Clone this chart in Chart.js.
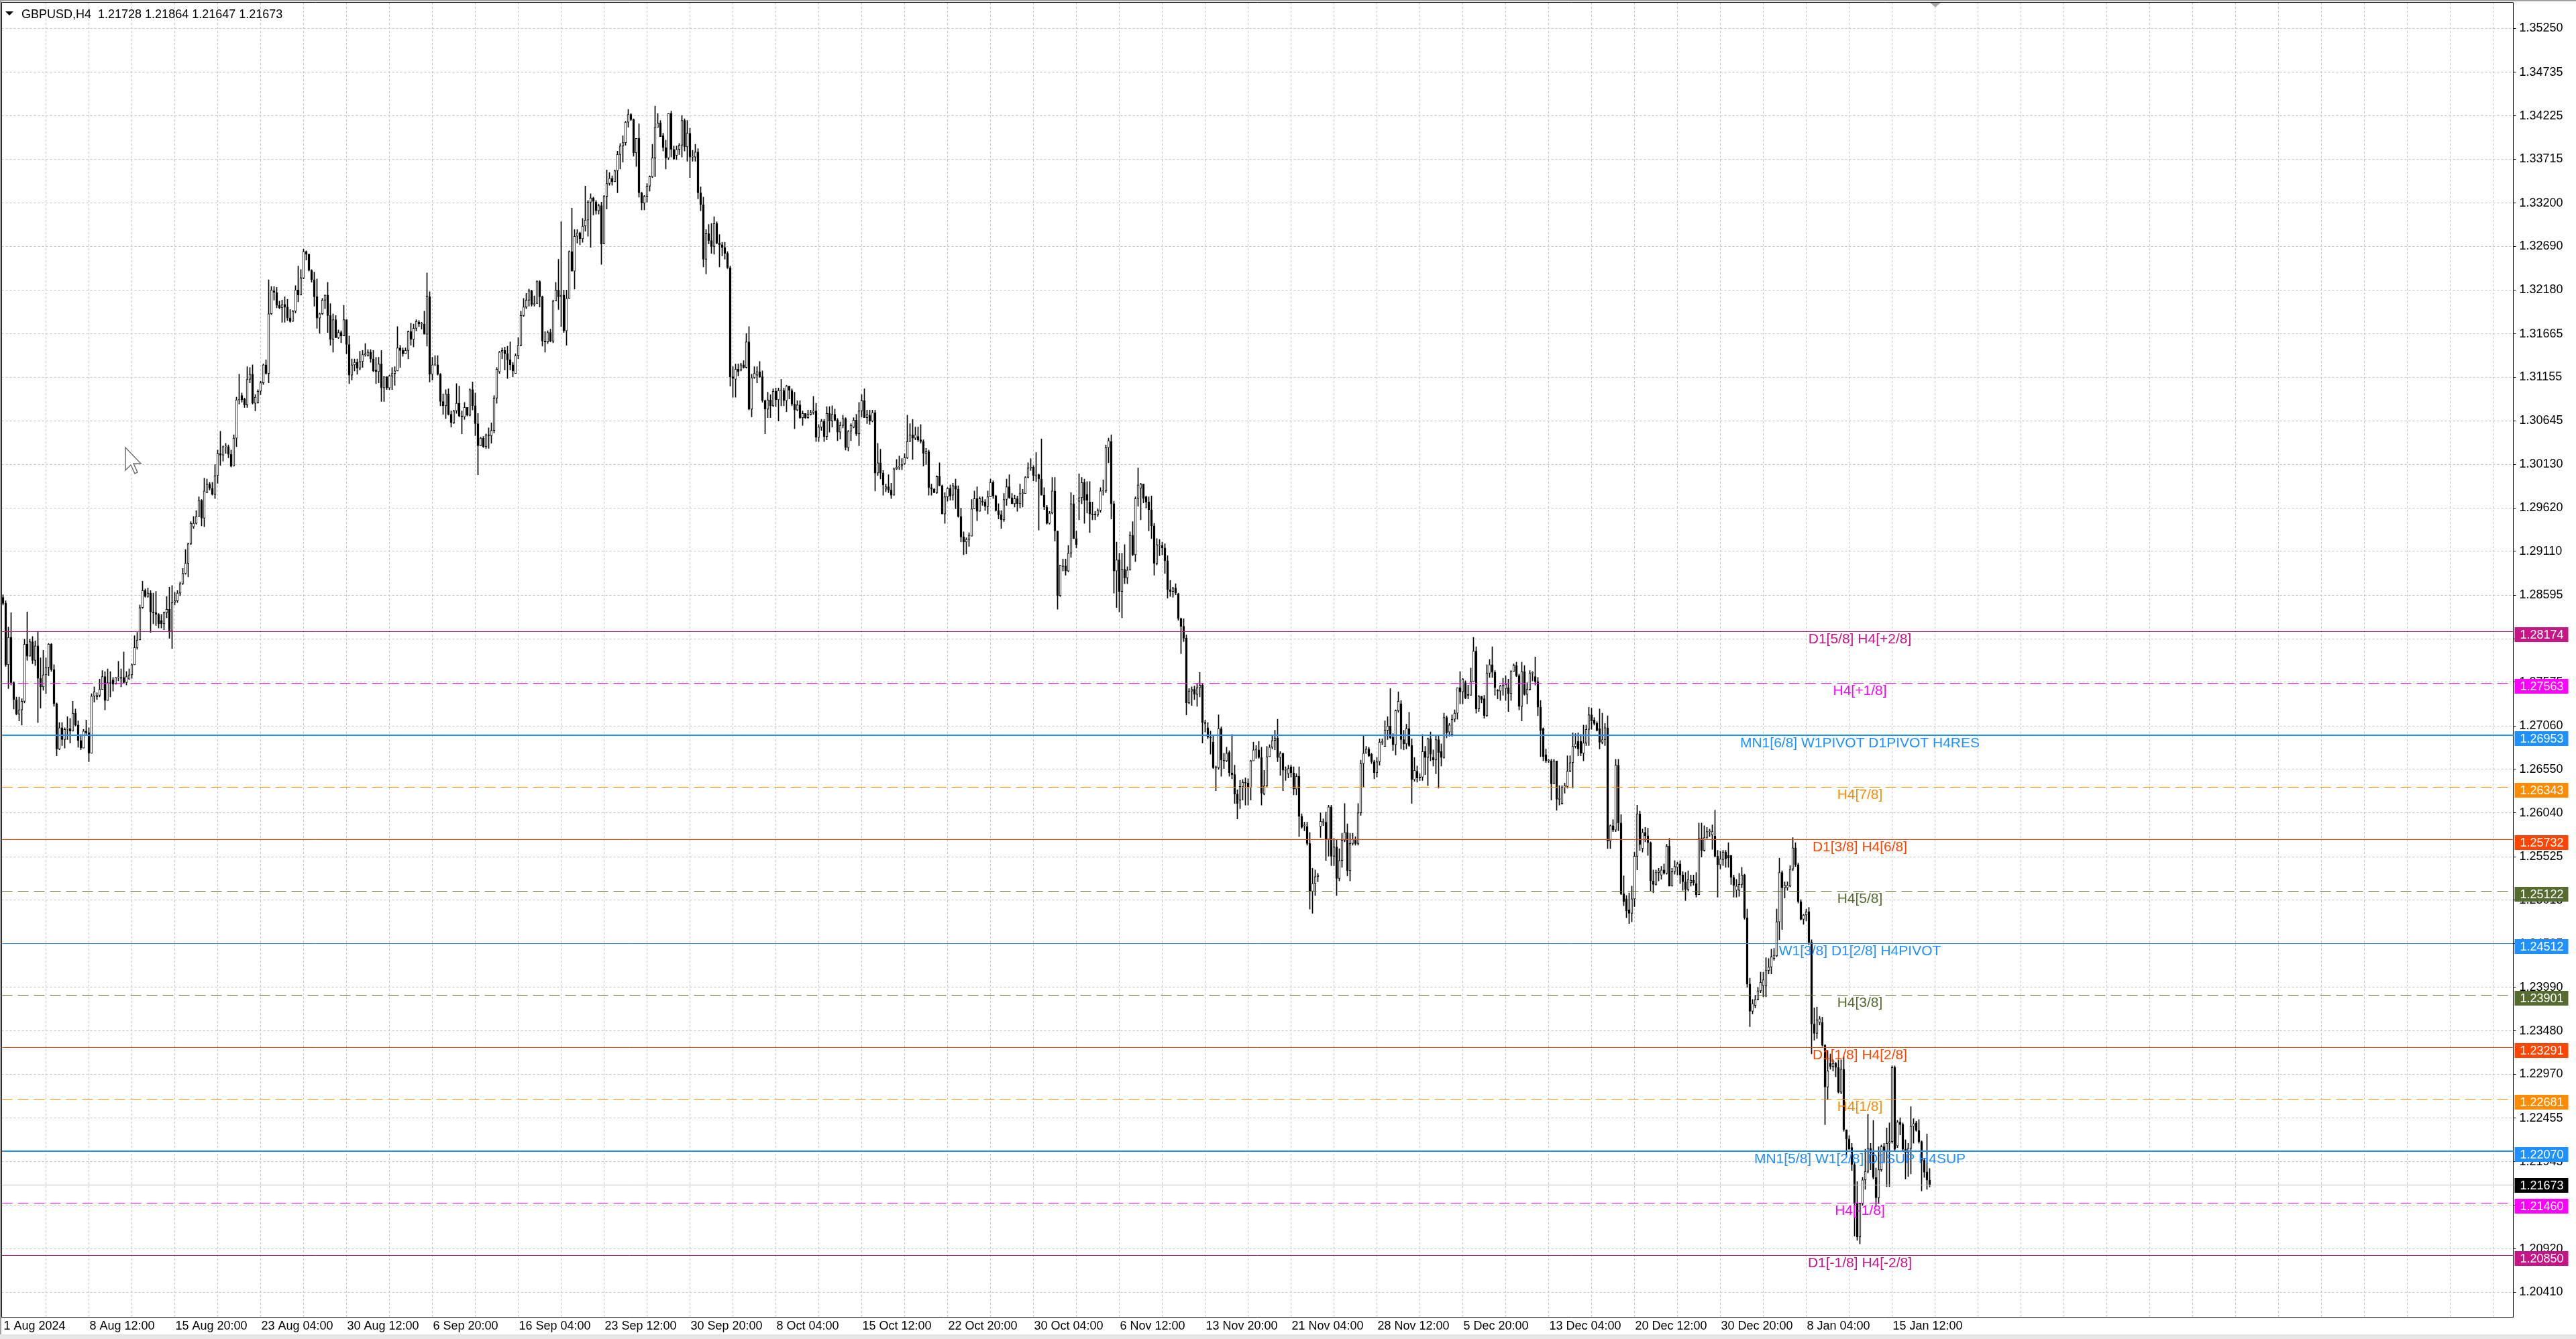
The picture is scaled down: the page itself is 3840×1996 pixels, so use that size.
<!DOCTYPE html>
<html>
<head>
<meta charset="utf-8">
<title>GBPUSD,H4</title>
<script src="https://cdn.jsdelivr.net/npm/chart.js@4.4.1/dist/chart.umd.min.js"></script>
<style>
  html, body { margin: 0; padding: 0; background: #fff; overflow: hidden; }
  canvas { display: block; }
</style>
</head>
<body>
<canvas id="chart" width="3840" height="1996"></canvas>
<script>
// GBPUSD H4 candles, values in pips above BASE
const BASE = 1.2;
const symbol = 'GBPUSD,H4';

const opens = [
  857,850,778,810,757,737,720,725,735,802,
  788,805,783,800,762,752,766,775,802,772,
  732,679,704,690,702,703,700,721,707,689,
  680,700,698,674,741,740,742,749,764,736,
  757,760,755,763,763,763,757,761,766,778,
  798,807,845,865,858,862,840,839,837,830,
  826,839,843,817,851,853,862,873,885,897,
  920,940,944,952,971,950,980,990,985,978,
  1000,1026,1024,1034,1034,1025,1011,1044,1089,1094,
  1090,1083,1113,1119,1085,1086,1099,1109,1130,1120,
  1190,1217,1215,1200,1197,1201,1198,1185,1181,1193,
  1218,1212,1232,1263,1260,1241,1230,1210,1185,1190,
  1206,1212,1188,1160,1183,1162,1168,1164,1183,1154,
  1118,1130,1133,1126,1134,1142,1141,1145,1137,1124,
  1122,1131,1103,1116,1103,1117,1120,1123,1150,1147,
  1143,1147,1169,1160,1173,1180,1178,1178,1166,1210,
  1119,1130,1130,1119,1087,1082,1096,1072,1062,1076,
  1085,1070,1069,1080,1071,1101,1082,1061,1035,1044,
  1034,1048,1047,1053,1091,1122,1145,1147,1143,1136,
  1130,1120,1141,1153,1188,1198,1206,1217,1201,1202,
  1228,1210,1158,1157,1168,1158,1205,1218,1210,1212,
  1170,1208,1263,1240,1281,1285,1278,1293,1300,1321,
  1326,1321,1311,1317,1272,1328,1343,1349,1345,1358,
  1377,1387,1391,1415,1424,1418,1379,1396,1332,1320,
  1328,1340,1351,1373,1409,1414,1399,1385,1373,1425,
  1383,1376,1383,1388,1417,1386,1402,1374,1374,1380,
  1332,1318,1254,1284,1276,1269,1296,1273,1271,1268,
  1261,1244,1116,1113,1125,1124,1130,1127,1157,1078,
  1115,1118,1122,1116,1088,1078,1089,1082,1099,1089,
  1100,1100,1088,1105,1100,1084,1077,1083,1068,1073,
  1068,1072,1074,1076,1045,1057,1064,1046,1073,1064,
  1072,1065,1051,1059,1067,1033,1052,1057,1065,1049,
  1076,1088,1068,1071,1064,1074,1003,1015,1003,984,
  987,983,977,1008,1010,1011,1014,1021,1040,1048,
  1044,1046,1042,1040,1026,1028,986,984,980,999,
  988,955,975,985,977,988,984,952,928,922,
  925,929,961,973,958,970,969,964,975,992,
  976,959,954,948,972,987,974,967,973,967,
  979,979,998,1009,1010,1000,1001,996,977,963,
  944,956,982,935,859,893,894,888,909,967,
  926,970,974,992,978,969,955,955,954,959,
  982,982,1033,1040,967,888,901,864,890,880,
  889,930,907,973,985,990,975,969,960,941,
  897,918,918,915,900,866,864,868,861,832,
  823,809,733,747,749,743,751,754,710,704,
  693,687,657,657,703,666,665,675,651,649,
  626,619,635,640,639,634,665,678,678,669,
  626,636,670,681,689,692,669,674,654,650,
  658,651,632,647,600,589,588,568,512,521,
  529,588,593,593,573,611,553,564,527,548,
  572,581,536,568,573,568,604,662,674,679,
  673,664,651,664,687,682,701,706,693,684,
  724,732,690,685,703,683,643,653,645,646,
  676,669,691,669,666,690,676,669,716,699,
  696,714,721,751,746,757,743,742,758,794,
  726,741,738,718,768,778,769,748,747,753,
  750,751,744,770,777,765,729,770,743,749,
  768,764,758,728,703,672,665,665,638,665,
  620,615,634,635,653,663,682,688,688,674,
  686,702,719,713,709,703,687,690,704,571,
  589,584,660,592,509,503,490,486,503,553,
  603,562,581,577,569,524,520,534,531,537,
  533,565,518,535,540,544,531,523,514,522,
  525,521,508,574,560,575,582,578,577,553,
  543,549,558,554,554,528,513,513,520,531,
  481,403,371,378,385,395,401,401,419,423,
  433,436,476,534,516,516,518,538,563,543,
  500,479,484,488,452,356,345,358,358,331,
  282,310,306,310,305,276,303,232,221,211,
  191,145,106,145,173,183,210,205,176,152,
  185,212,207,216,218,305,213,241,238,209,
  205,210,236,240,231,218,196,182,172.8
];

const highs = [
  860,853,822,839,758,740,740,738,808,840,
  808,811,806,817,786,795,786,803,803,778,
  733,710,710,704,717,715,735,726,712,696,
  702,713,704,744,752,745,761,771,770,773,
  770,763,763,782,773,793,770,773,779,812,
  816,848,876,867,868,865,862,864,838,837,
  840,858,869,871,863,865,875,891,913,921,
  946,952,959,975,972,997,996,992,992,1013,
  1030,1052,1035,1038,1036,1030,1048,1092,1119,1097,
  1091,1128,1127,1130,1095,1101,1111,1131,1136,1230,
  1222,1222,1221,1205,1206,1210,1207,1195,1194,1223,
  1246,1242,1266,1264,1260,1242,1239,1231,1191,1208,
  1212,1227,1202,1190,1188,1171,1170,1200,1183,1164,
  1137,1137,1137,1146,1147,1155,1148,1148,1147,1139,
  1139,1147,1116,1116,1118,1127,1128,1175,1153,1150,
  1150,1170,1179,1178,1183,1182,1180,1193,1238,1216,
  1139,1141,1141,1120,1096,1101,1102,1076,1077,1108,
  1105,1076,1086,1080,1102,1110,1097,1073,1045,1046,
  1049,1056,1062,1094,1127,1146,1150,1151,1152,1157,
  1133,1143,1162,1193,1208,1214,1219,1218,1211,1229,
  1229,1211,1169,1170,1172,1206,1227,1254,1298,1218,
  1218,1264,1314,1289,1289,1286,1302,1340,1323,1331,
  1327,1323,1319,1321,1329,1359,1356,1352,1359,1381,
  1390,1399,1416,1430,1425,1419,1396,1413,1333,1329,
  1343,1352,1389,1434,1425,1417,1402,1394,1425,1428,
  1387,1387,1390,1423,1419,1417,1408,1382,1389,1384,
  1339,1327,1289,1295,1296,1304,1298,1283,1274,1274,
  1263,1246,1128,1131,1131,1132,1135,1167,1175,1119,
  1128,1128,1134,1123,1089,1098,1095,1102,1103,1103,
  1113,1103,1106,1105,1102,1098,1088,1088,1076,1073,
  1077,1077,1093,1085,1060,1066,1066,1081,1081,1082,
  1078,1067,1063,1071,1068,1053,1061,1068,1072,1086,
  1095,1102,1077,1077,1077,1077,1038,1031,1006,990,
  1001,991,1009,1019,1023,1020,1026,1071,1061,1066,
  1057,1057,1060,1042,1032,1030,990,985,1000,1015,
  989,980,986,989,991,996,988,962,934,927,
  933,972,982,987,975,975,972,982,996,994,
  977,967,959,979,996,1001,979,977,976,990,
  984,999,1015,1020,1012,1027,1002,1043,986,965,
  958,998,998,935,895,902,902,918,980,977,
  935,1002,998,996,993,993,969,958,961,986,
  995,1036,1044,1048,970,922,909,909,919,893,
  934,946,975,1009,991,990,976,975,976,944,
  926,925,922,920,906,877,869,873,862,833,
  832,813,750,752,753,756,769,756,713,710,
  700,695,659,719,705,674,681,677,696,660,
  631,642,643,645,644,666,687,683,688,681,
  654,682,684,695,701,714,676,674,658,660,
  660,658,650,658,603,593,593,581,539,537,
  533,604,597,605,613,613,574,572,562,580,
  615,591,580,580,576,615,666,694,682,681,
  674,666,669,691,691,712,717,750,697,725,
  746,736,701,708,722,691,669,659,650,696,
  682,692,699,678,694,695,685,721,718,709,
  719,725,751,770,762,759,754,774,810,799,
  742,741,742,778,784,799,771,749,754,762,
  765,761,771,779,781,767,781,777,757,771,
  770,787,763,736,704,679,667,667,667,665,
  636,636,639,671,671,698,697,698,696,707,
  707,728,727,716,711,726,721,709,718,590,
  596,667,667,602,530,507,510,518,558,613,
  606,585,587,586,570,537,537,539,541,544,
  567,574,539,548,546,548,535,534,536,531,
  531,534,592,592,589,587,585,590,607,560,
  559,560,560,569,554,531,526,533,540,532,
  491,410,385,390,399,417,417,434,433,444,
  445,491,551,536,523,523,542,575,569,545,
  502,485,491,493,455,375,376,365,364,332,
  325,321,314,311,314,314,318,232,225,216,
  194,171,145,176,209,250,216,243,187,212,
  214,216,234,240,307,307,243,246,240,220,
  216,259,245,242,244,219,198,227,186.4
];

const lows = [
  848,776,750,754,726,719,712,707,733,783,
  788,779,777,710,727,748,744,765,770,729,
  671,678,683,680,690,686,700,706,681,678,
  680,695,664,674,734,737,740,749,725,736,
  740,747,755,759,752,756,754,761,762,778,
  796,807,844,857,857,816,826,824,821,821,
  819,833,809,797,848,851,859,872,884,881,
  919,938,943,952,941,940,980,983,977,973,
  991,1012,1017,1026,1021,1010,1011,1034,1084,1086,
  1080,1080,1109,1084,1076,1085,1095,1107,1119,1109,
  1189,1206,1197,1196,1180,1180,1182,1180,1181,1191,
  1204,1212,1231,1253,1240,1227,1199,1173,1167,1189,
  1196,1168,1153,1145,1162,1161,1156,1164,1143,1108,
  1112,1123,1119,1124,1127,1140,1140,1133,1122,1108,
  1109,1087,1087,1101,1101,1101,1106,1123,1127,1140,
  1143,1137,1153,1151,1170,1175,1172,1166,1152,1110,
  1112,1129,1118,1082,1072,1067,1071,1057,1061,1073,
  1069,1049,1066,1070,1070,1077,1047,1001,1035,1033,
  1032,1032,1038,1050,1085,1120,1137,1124,1114,1124,
  1116,1120,1137,1152,1187,1196,1199,1199,1199,1202,
  1198,1152,1145,1155,1157,1156,1205,1195,1175,1168,
  1153,1208,1240,1219,1273,1271,1274,1287,1281,1268,
  1306,1307,1307,1248,1272,1313,1341,1341,1345,1332,
  1360,1368,1388,1409,1417,1375,1363,1327,1312,1312,
  1321,1334,1350,1351,1409,1398,1381,1360,1371,1374,
  1371,1371,1377,1374,1381,1369,1350,1369,1369,1325,
  1311,1245,1237,1272,1261,1260,1272,1245,1258,1254,
  1243,1105,1092,1092,1117,1123,1126,1126,1077,1069,
  1114,1109,1115,1086,1049,1068,1068,1081,1081,1064,
  1082,1082,1075,1090,1082,1055,1076,1067,1059,1067,
  1067,1071,1072,1040,1040,1053,1040,1042,1051,1057,
  1064,1041,1043,1056,1030,1029,1041,1056,1047,1035,
  1069,1068,1061,1060,1063,982,1000,996,977,981,
  980,973,977,1007,1007,1007,1013,1020,1040,1019,
  1042,1040,1038,1011,1013,977,977,980,979,988,
  955,944,970,971,971,961,951,922,907,908,
  917,929,961,947,958,965,959,955,975,973,
  958,949,938,946,965,973,967,963,958,962,
  963,979,997,1006,994,993,936,977,960,943,
  943,955,923,843,858,888,883,887,904,926,
  915,948,967,944,956,933,948,948,952,957,
  977,980,1015,949,862,845,840,833,873,873,
  889,906,899,964,948,968,962,935,926,883,
  895,906,907,885,856,858,857,860,830,791,
  805,719,732,730,737,729,740,686,699,691,
  673,656,630,655,647,656,664,647,644,615,
  597,609,619,613,613,619,665,668,668,613,
  625,635,670,679,678,664,648,630,642,645,
  646,625,625,576,586,583,566,491,486,507,
  523,575,589,548,553,542,542,507,524,540,
  570,530,524,566,566,566,601,634,674,670,
  662,644,646,660,684,682,690,691,677,672,
  722,679,678,679,682,615,641,640,642,642,
  649,636,665,659,650,633,659,668,692,694,
  694,711,714,732,732,738,738,742,758,721,
  723,733,715,717,763,763,742,738,736,742,
  736,723,736,770,764,725,712,742,732,748,
  759,754,718,670,665,663,663,619,638,607,
  613,614,627,633,652,633,680,671,671,665,
  683,683,702,707,700,679,685,683,562,562,
  582,582,583,508,495,481,474,476,494,537,
  560,558,570,554,512,510,519,524,526,532,
  532,518,518,532,531,521,513,501,512,518,
  519,505,508,552,559,574,576,561,552,505,
  538,542,540,540,520,505,505,506,516,479,
  399,353,368,375,384,393,388,388,415,415,
  431,435,455,467,504,513,517,536,541,498,
  478,473,477,449,321,337,339,355,330,238,
  267,303,301,294,275,274,230,201,209,184,
  107,102,98,143,162,181,185,174,142,145,
  183,194,165,165,216,207,211,226,207,174,
  177,180,216,230,216,160,176,162,164.7
];

const closes = [
  850,778,810,757,737,720,725,735,802,788,
  805,783,800,762,752,766,775,802,772,732,
  679,704,690,702,703,700,721,707,689,680,
  700,698,674,741,746,742,749,764,736,757,
  756,755,763,763,762,757,764,766,778,798,
  807,845,865,858,862,840,839,837,826,826,
  839,843,817,851,853,862,873,885,897,920,
  944,944,952,971,950,982,990,985,978,1000,
  1026,1024,1034,1034,1025,1011,1044,1089,1089,1089,
  1083,1113,1119,1085,1092,1099,1109,1130,1120,1190,
  1218,1215,1200,1197,1201,1198,1185,1181,1193,1218,
  1212,1232,1263,1260,1241,1230,1210,1185,1190,1206,
  1212,1188,1160,1183,1162,1168,1164,1183,1154,1118,
  1130,1133,1126,1134,1142,1143,1145,1137,1123,1122,
  1131,1103,1116,1103,1117,1120,1123,1150,1147,1143,
  1147,1169,1160,1173,1181,1178,1178,1166,1210,1119,
  1130,1130,1119,1087,1082,1096,1072,1062,1076,1085,
  1070,1069,1080,1071,1101,1082,1061,1035,1044,1034,
  1048,1047,1053,1091,1125,1145,1147,1143,1136,1130,
  1123,1141,1153,1188,1198,1206,1217,1201,1202,1228,
  1210,1158,1157,1168,1158,1205,1218,1210,1212,1170,
  1208,1263,1240,1281,1285,1278,1293,1300,1321,1326,
  1322,1311,1317,1272,1328,1343,1349,1345,1358,1377,
  1387,1391,1415,1424,1418,1379,1396,1332,1320,1328,
  1340,1351,1373,1409,1414,1398,1385,1373,1425,1383,
  1372,1383,1388,1417,1386,1402,1374,1374,1380,1332,
  1318,1254,1284,1276,1269,1296,1273,1271,1268,1261,
  1244,1116,1114,1125,1122,1130,1127,1157,1078,1115,
  1120,1122,1116,1088,1078,1089,1082,1099,1089,1100,
  1100,1088,1105,1100,1084,1077,1083,1068,1073,1068,
  1072,1074,1076,1045,1057,1064,1046,1073,1064,1072,
  1065,1051,1059,1067,1033,1052,1059,1065,1049,1076,
  1088,1068,1072,1064,1074,1003,1015,1003,989,987,
  983,977,1008,1010,1011,1013,1021,1040,1048,1044,
  1048,1042,1040,1026,1028,986,984,980,999,988,
  955,975,985,976,988,984,952,928,922,925,
  930,961,973,958,973,969,964,975,992,976,
  959,954,948,972,987,974,967,973,967,979,
  979,998,1009,1010,1000,1000,996,977,963,944,
  956,982,935,859,895,894,888,909,967,926,
  919,974,992,971,971,955,954,954,959,982,
  982,1033,1041,967,888,901,864,890,880,889,
  930,907,973,989,990,973,969,960,941,897,
  919,918,915,900,866,864,868,862,832,823,
  809,733,747,749,743,751,754,710,709,693,
  692,657,657,703,666,665,674,651,649,626,
  615,635,640,639,634,665,678,678,669,627,
  636,670,681,689,692,669,674,654,654,656,
  651,632,647,600,587,589,568,512,521,529,
  531,594,593,573,611,553,564,527,548,572,
  581,536,568,573,568,604,662,674,679,671,
  664,651,664,687,687,701,706,692,684,724,
  735,690,685,703,683,643,654,645,646,676,
  669,691,673,666,690,675,669,716,698,707,
  714,721,751,746,761,739,742,758,794,726,
  741,737,718,768,778,769,751,747,753,754,
  755,744,770,777,765,729,770,743,749,768,
  769,758,728,701,670,665,665,638,665,620,
  621,634,636,653,663,682,685,679,674,686,
  702,719,712,709,701,687,690,704,571,589,
  584,660,592,509,500,489,486,503,553,603,
  567,581,577,569,524,520,534,536,537,533,
  565,518,535,541,544,531,523,514,526,525,
  522,508,574,560,575,582,582,582,553,543,
  550,558,550,551,528,519,518,520,531,481,
  403,371,380,385,395,405,408,419,423,435,
  437,476,534,516,519,519,538,563,543,500,
  479,484,488,452,356,345,361,362,331,282,
  301,306,310,305,276,303,232,221,209,191,
  145,106,145,173,183,210,205,176,152,185,
  212,207,216,218,305,209,241,238,209,205,
  210,236,239,231,218,196,182,173,167.3
];

// time labels, one every 32 bars
const xLabels = [
  '1 Aug 2024', '8 Aug 12:00', '15 Aug 20:00', '23 Aug 04:00', '30 Aug 12:00',
  '6 Sep 20:00', '16 Sep 04:00', '23 Sep 12:00', '30 Sep 20:00', '8 Oct 04:00',
  '15 Oct 12:00', '22 Oct 20:00', '30 Oct 04:00', '6 Nov 12:00', '13 Nov 20:00',
  '21 Nov 04:00', '28 Nov 12:00', '5 Dec 20:00', '13 Dec 04:00', '20 Dec 12:00',
  '30 Dec 20:00', '8 Jan 04:00', '15 Jan 12:00'
];

// price scale ticks
const yTicks = [
  1.35250, 1.34735, 1.34225, 1.33715, 1.33200, 1.32690, 1.32180, 1.31665, 1.31155, 1.30645,
  1.30130, 1.29620, 1.29110, 1.28595, 1.28085, 1.27575, 1.27060, 1.26550, 1.26040, 1.25525,
  1.25015, 1.24505, 1.23990, 1.23480, 1.22970, 1.22455, 1.21945, 1.21435, 1.20920, 1.20410
];

// Murrey / pivot levels and their captions
const levelPrices = [1.28174, 1.27563, 1.26953, 1.26343, 1.25732, 1.25122, 1.24512,
                     1.23901, 1.23291, 1.22681, 1.22070, 1.21460, 1.20850];
const levelTexts = [
  'D1[5/8] H4[+2/8]', 'H4[+1/8]', 'MN1[6/8] W1PIVOT D1PIVOT H4RES', 'H4[7/8]',
  'D1[3/8] H4[6/8]', 'H4[5/8]', 'W1[3/8] D1[2/8] H4PIVOT', 'H4[3/8]',
  'D1[1/8] H4[2/8]', 'H4[1/8]', 'MN1[5/8] W1[2/8] D1SUP H4SUP', 'H4[-1/8]', 'D1[-1/8] H4[-2/8]'
];

const levelStyles = [
  { color: '#C71585', width: 1, dash: false },
  { color: '#FF00FF', width: 1, dash: true },
  { color: '#1E90FF', width: 2, dash: false },
  { color: '#FF8C00', width: 1, dash: true },
  { color: '#FF4500', width: 1, dash: false },
  { color: '#556B2F', width: 1, dash: true },
  { color: '#1E90FF', width: 1, dash: false },
  { color: '#556B2F', width: 1, dash: true },
  { color: '#FF4500', width: 1, dash: false },
  { color: '#FF8C00', width: 1, dash: true },
  { color: '#1E90FF', width: 2, dash: false },
  { color: '#FF00FF', width: 1, dash: true },
  { color: '#C71585', width: 1, dash: false }
];

const SLOTS = 936;        // bars plus the empty shift area on the right
const CAPTION_BAR = 692;  // where the level captions are centred
const Y_MIN = 1.20122, Y_MAX = 1.35553;
const FONT = '"Liberation Sans", Arial, sans-serif';

const toPrice = v => BASE + v / 10000;
const fmt = v => toPrice(v).toFixed(5);
const last = closes.length - 1;
const bid = toPrice(closes[last]);

const labels = Array.from({ length: SLOTS }, (_, i) => String(i));
const wicks = highs.map((h, i) => [toPrice(lows[i]), toPrice(h)]);
const bodies = opens.map((o, i) => [toPrice(o), toPrice(closes[i])]);
const bodyFill = opens.map((o, i) => closes[i] >= o ? '#ffffff' : '#000000');

const overlay = {
  id: 'overlay',
  afterDatasetsDraw(chart) {
    const { ctx, chartArea: a, scales: { x, y } } = chart;
    ctx.save();
    // bid line
    let by = Math.round(y.getPixelForValue(bid)) + 0.5;
    ctx.strokeStyle = '#C0C0C0';
    ctx.lineWidth = 1;
    ctx.beginPath(); ctx.moveTo(a.left, by); ctx.lineTo(a.right, by); ctx.stroke();

    levelPrices.forEach((p, i) => {
      const s = levelStyles[i];
      const py = Math.round(y.getPixelForValue(p)) + (s.width % 2 ? 0.5 : 0);
      ctx.strokeStyle = s.color;
      ctx.lineWidth = s.width;
      ctx.setLineDash(s.dash ? [16, 8] : []);
      ctx.beginPath(); ctx.moveTo(a.left, py); ctx.lineTo(a.right, py); ctx.stroke();
    });
    ctx.setLineDash([]);

    ctx.font = '21px ' + FONT;
    ctx.textAlign = 'center';
    ctx.textBaseline = 'alphabetic';
    const tx = x.getPixelForValue(CAPTION_BAR);
    levelPrices.forEach((p, i) => {
      ctx.fillStyle = levelStyles[i].color;
      ctx.fillText(levelTexts[i], tx, Math.round(y.getPixelForValue(p)) + 18);
    });
    ctx.restore();
  },
  afterDraw(chart) {
    const { ctx, chartArea: a, scales: { y } } = chart;
    ctx.save();
    // window frame
    ctx.fillStyle = '#A0A0A0';
    ctx.fillRect(0, 0, 3840, 2);
    ctx.fillRect(0, 0, 2, 1996);
    ctx.fillStyle = '#E6E6E6';
    ctx.fillRect(0, 1989, 3840, 7);
    ctx.strokeStyle = '#000';
    ctx.lineWidth = 1;
    ctx.beginPath();
    ctx.moveTo(2.5, a.bottom); ctx.lineTo(2.5, 3.5); ctx.lineTo(a.right, 3.5);
    ctx.stroke();

    // price boxes on the axis (level tags sit a little below their line)
    ctx.font = '18px ' + FONT;
    ctx.textAlign = 'left';
    ctx.textBaseline = 'middle';
    const boxes = levelPrices.map((p, i) => ({ p, c: levelStyles[i].color, dy: 5 }));
    boxes.push({ p: bid, c: '#000000', dy: 1 });
    boxes.forEach(b => {
      const yy = Math.round(y.getPixelForValue(b.p)) + b.dy;
      ctx.fillStyle = b.c;
      ctx.fillRect(y.left + 2, yy - 11, 80, 22);
      ctx.fillStyle = '#ffffff';
      ctx.fillText(b.p.toFixed(5), y.left + 10, yy + 1);
    });

    // header
    ctx.fillStyle = '#000';
    ctx.beginPath(); ctx.moveTo(8, 17); ctx.lineTo(20, 17); ctx.lineTo(14, 23); ctx.closePath(); ctx.fill();
    ctx.textBaseline = 'alphabetic';
    ctx.fillText(symbol + '  ' + fmt(opens[last]) + ' ' + fmt(highs[last]) + ' ' +
                 fmt(lows[last]) + ' ' + fmt(closes[last]), 32, 27);

    // chart shift marker
    ctx.fillStyle = '#A8A8A8';
    ctx.beginPath(); ctx.moveTo(2877, 4); ctx.lineTo(2893, 4); ctx.lineTo(2885, 11); ctx.closePath(); ctx.fill();

    // mouse pointer
    ctx.translate(187, 667);
    ctx.beginPath();
    ctx.moveTo(0, 0); ctx.lineTo(0, 34); ctx.lineTo(8, 26); ctx.lineTo(14, 39);
    ctx.lineTo(18, 37); ctx.lineTo(12, 24); ctx.lineTo(23, 24); ctx.closePath();
    ctx.fillStyle = '#fff'; ctx.fill();
    ctx.strokeStyle = '#707070'; ctx.lineWidth = 1.5; ctx.stroke();
    ctx.restore();
  }
};

new Chart(document.getElementById('chart'), {
  type: 'bar',
  data: {
    labels,
    datasets: [
      { data: wicks, backgroundColor: '#000', borderWidth: 0, barThickness: 1, grouped: false, order: 2 },
      { data: bodies, backgroundColor: bodyFill, borderColor: '#000', borderWidth: 1, borderSkipped: false,
        barThickness: 3, minBarLength: 1, grouped: false, order: 1 }
    ]
  },
  options: {
    responsive: false,
    devicePixelRatio: 1,
    animation: false,
    events: [],
    layout: { padding: { left: 2.5, top: 4, right: 0, bottom: 0 } },
    plugins: { legend: { display: false }, tooltip: { enabled: false } },
    scales: {
      x: {
        type: 'category',
        offset: true,
        grid: {
          offset: false,
          drawTicks: false,
          color: c => (c.index % 16 === 0 && c.index > 0) ? '#C4C4C4' : 'rgba(0,0,0,0)'
        },
        border: { display: true, color: '#000', width: 1, dash: [3, 3] },
        ticks: {
          autoSkip: false, maxRotation: 0, minRotation: 0, align: 'start',
          padding: 3, labelOffset: 1, color: '#000', font: { family: FONT, size: 18 },
          callback: (v, i) => (i % 32 === 0 && i / 32 < xLabels.length) ? xLabels[i / 32] : ''
        },
        afterFit: s => { s.height = 33; s.paddingLeft = 0; s.paddingRight = 0; }
      },
      y: {
        type: 'linear',
        position: 'right',
        min: Y_MIN,
        max: Y_MAX,
        afterBuildTicks: s => { s.ticks = yTicks.map(v => ({ value: v })); },
        grid: { color: '#C4C4C4', tickColor: '#000', tickLength: 4, drawTicks: true },
        border: { display: true, color: '#000', width: 1, dash: [3, 3] },
        ticks: { padding: 5, color: '#000', font: { family: FONT, size: 18 }, callback: v => v.toFixed(5) },
        afterFit: s => { s.width = 93.5; s.paddingTop = 0; s.paddingBottom = 0; }
      }
    }
  },
  plugins: [overlay]
});
</script>
</body>
</html>
